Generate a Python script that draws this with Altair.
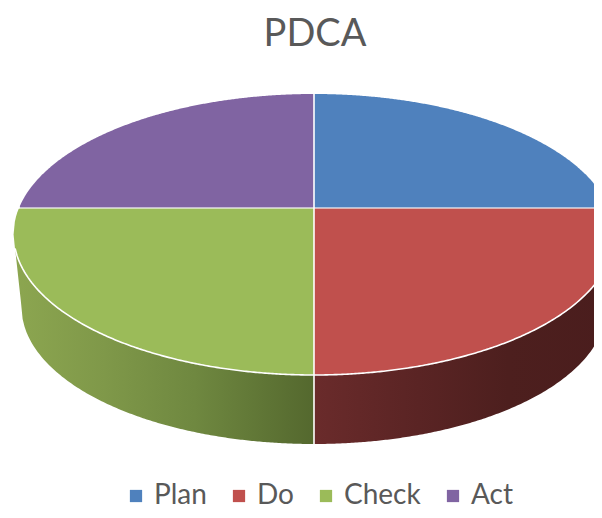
import numpy as np
import pandas as pd
import altair as alt

# Chart values
chart_title = ["PDCA"]
categories = ["Plan", "Do", "Check", "Act"]
shares = [25, 25, 25, 25]
colors = ["#4f81bd", "#c0504d", "#9bbb59", "#8064a2"]

# Projection of the round pie onto the page (tilted disc, in page pixels)
APEX_X, APEX_Y = 314.0, 208.0
RADIUS = 295.0
TILT_A, TILT_K = 135.5, 0.1886
RX, RY, CY = 300.4, 140.5, 234.5      # same rim as an ellipse
RX2, RY2, CY2 = 292.5, 137.0, 307.0   # rim of the underside


def project(theta):
    u, v = np.sin(theta), np.cos(theta)
    d = 1 + TILT_K * v
    return APEX_X + RADIUS * u / d, APEX_Y - TILT_A * v / d


edges = np.cumsum([0] + shares) / sum(shares) * 2 * np.pi
edge_x, edge_y = project(edges)

# Top face: two upper wedges end on the rim, two lower wedges fill to the rim
f_all = np.linspace(0, 1, 240)
rows = []
for name, side, upper in [("Plan", 1, True), ("Do", 1, False), ("Check", -1, False), ("Act", -1, True)]:
    limit = abs(edge_x[1] - APEX_X) / RX
    ff = f_all[f_all <= limit] if upper else f_all
    for f in ff:
        root = np.sqrt(1 - f ** 2)
        up = CY - RY * root
        low = CY + RY * root
        rows.append({
            "slice": name,
            "x": APEX_X + side * RX * f,
            "y": up if upper else max(up, APEX_Y),
            "y2": APEX_Y if upper else low,
        })
top = pd.DataFrame(rows)


def wall(sign):
    f = np.linspace(0, 0.995, 160)
    dx = RX * f
    x = APEX_X + sign * dx
    y = CY + RY * np.sqrt(1 - f ** 2)
    inner = np.clip(dx / RX2, 0, 1)
    y2 = CY2 + RY2 * np.sqrt(1 - inner ** 2)
    over = dx > RX2
    edge = (dx - RX2) / (RX * 0.995 - RX2)
    y2 = np.where(over, CY2 + (y[-1] - CY2) * edge, y2)
    return pd.DataFrame({"x": x, "y": y, "y2": y2}).sort_values("x")


left_wall = wall(-1)
right_wall = wall(1)

x_scale = alt.Scale(domain=[8, 594], nice=False, zero=False)
y_scale = alt.Scale(domain=[510, 8], nice=False, zero=False)
X = alt.X("x:Q", scale=x_scale, axis=None)
Y = alt.Y("y:Q", scale=y_scale, axis=None, stack=None)


def grad(stops):
    return alt.Gradient(
        gradient="linear", x1=0, y1=0, x2=1, y2=0,
        stops=[alt.GradientStop(offset=o, color=c) for o, c in stops],
    )


check_wall = alt.Chart(left_wall).mark_area(
    clip=True,
    color=grad([(0, "#8ca650"), (0.3, "#7f9849"), (0.6, "#6f8840"), (1, "#54682e")]),
).encode(x=X, y=Y, y2="y2:Q")

do_wall = alt.Chart(right_wall).mark_area(
    clip=True,
    color=grad([(0, "#6a2b2b"), (0.35, "#5a2424"), (0.65, "#4d1f1e"), (1, "#4a1d1d")]),
).encode(x=X, y=Y, y2="y2:Q")

faces = alt.Chart(top).mark_area(clip=True).encode(
    x=X,
    y=Y,
    y2="y2:Q",
    color=alt.Color(
        "slice:N",
        scale=alt.Scale(domain=categories, range=colors),
        sort=categories,
        legend=alt.Legend(
            orient="none", legendX=114, legendY=474, direction="horizontal",
            columns=4, title=None, symbolType="square", symbolSize=150,
            symbolStrokeWidth=0, labelFontSize=28, labelFont="Lato",
            labelColor="#595959", columnPadding=18, labelOffset=4,
        ),
    ),
)

rim = pd.concat([left_wall, right_wall]).sort_values("x")
rim_line = alt.Chart(rim).mark_line(clip=True, color="#ffffff", strokeWidth=1.6).encode(
    x=X, y=alt.Y("y:Q", scale=y_scale, axis=None)
)

h_rule = alt.Chart(pd.DataFrame({"x": [edge_x[3]], "x2": [edge_x[1]], "y": [APEX_Y]})).mark_rule(
    clip=True, color="#ffffff", strokeWidth=1.3, opacity=0.75
).encode(x=X, x2="x2:Q", y=alt.Y("y:Q", scale=y_scale, axis=None))

v_rule = alt.Chart(
    pd.DataFrame({"x": [APEX_X], "y": [float(edge_y[0])], "y2": [CY2 + RY2]})
).mark_rule(clip=True, color="#ffffff", strokeWidth=1.6).encode(
    x=X, y=alt.Y("y:Q", scale=y_scale, axis=None), y2="y2:Q"
)

title_text = alt.Chart(pd.DataFrame({"x": [315.0], "y": [46.0], "label": chart_title})).mark_text(
    font="Lato", fontSize=38, fontWeight="normal", color="#595959",
    align="center", baseline="alphabetic",
).encode(x=X, y=alt.Y("y:Q", scale=y_scale, axis=None), text="label:N")

chart = (
    alt.layer(check_wall, do_wall, faces, rim_line, h_rule, v_rule, title_text)
    .properties(
        width=586,
        height=502,
        padding=0,
        autosize=alt.AutoSizeParams(type="none"),
    )
    .configure_view(stroke=None)
)

chart.save("out.html", embed_options={"renderer": "svg", "actions": False})
